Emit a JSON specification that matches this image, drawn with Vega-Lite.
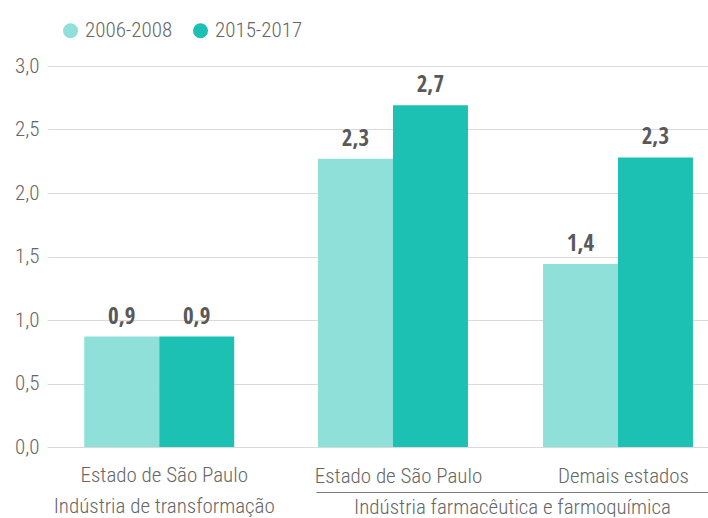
{
  "$schema": "https://vega.github.io/schema/vega-lite/v6.json",
  "padding": {"left": 7, "top": 20, "right": 0, "bottom": 0},
  "bounds": "flush",
  "config": {
    "locale": {"number": {"decimal": ",", "thousands": ".", "grouping": [3], "currency": ["R$ ", ""]}},
    "font": "Roboto Condensed, DejaVu Sans Condensed, sans-serif",
    "view": {"stroke": null}
  },
  "data": {
    "values": [
      {"sector": "Indústria de transformação", "group": "Estado de São Paulo", "period": "2006-2008", "value": 0.87},
      {"sector": "Indústria de transformação", "group": "Estado de São Paulo", "period": "2015-2017", "value": 0.87},
      {"sector": "Indústria farmacêutica e farmoquímica", "group": "Estado de São Paulo", "period": "2006-2008", "value": 2.27},
      {"sector": "Indústria farmacêutica e farmoquímica", "group": "Estado de São Paulo", "period": "2015-2017", "value": 2.69},
      {"sector": "Indústria farmacêutica e farmoquímica", "group": "Demais estados", "period": "2006-2008", "value": 1.44},
      {"sector": "Indústria farmacêutica e farmoquímica", "group": "Demais estados", "period": "2015-2017", "value": 2.28}
    ]
  },
  "spacing": 0,
  "resolve": {"scale": {"x": "independent", "y": "shared", "color": "shared"}, "axis": {"y": "independent", "x": "independent"}},
  "hconcat": [
    {
      "width": 269,
      "height": 381,
      "transform": [{"filter": "datum.sector == 'Indústria de transformação'"}],
      "encoding": {
        "x": {"field": "group", "type": "nominal", "sort": null,
          "scale": {"paddingInner": 0, "paddingOuter": 0.397, "align": 0.313},
          "axis": {"title": null, "domain": false, "ticks": false, "tickSize": 0, "labelPadding": -10, "offset": 44,
            "labelBaseline": "alphabetic", "labelAngle": 0, "labelOffset": 5,
            "labelExpr": "[datum.label, 'Indústria de transformação']", "labelLineHeight": 31,
            "labelFontWeight": 300,
            "labelFontSize": 21, "labelColor": "#666666", "labelLimit": 0, "labelOverlap": false, "labelFlush": false}},
        "xOffset": {"field": "period", "type": "nominal", "scale": {"paddingInner": 0, "paddingOuter": 0}},
        "y": {"field": "value", "type": "quantitative", "scale": {"domain": [0, 3]},
          "axis": {"values": [0, 0.5, 1, 1.5, 2, 2.5, 3], "format": ".1f", "title": null, "domain": false, "ticks": false,
            "labelPadding": 8, "minExtent": 40, "maxExtent": 40, "gridColor": "#d9d9d9", "gridWidth": 1.2,
            "labelFontWeight": 300,
            "labelFontSize": 21, "labelColor": "#666666"}},
        "color": {"field": "period", "type": "nominal",
          "scale": {"domain": ["2006-2008", "2015-2017"], "range": ["#8fe0d9", "#1dc1b3"]},
          "legend": {"orient": "none", "legendX": 13, "legendY": -46, "direction": "horizontal", "title": null,
            "symbolType": "circle", "symbolSize": 225, "symbolStrokeWidth": 0, "symbolOpacity": 1,
            "labelFontWeight": 300,
            "labelFontSize": 21, "labelColor": "#666666", "labelOffset": 4, "columnPadding": 17, "padding": 0}}
      },
      "layer": [
        {"mark": {"type": "bar"}},
        {"mark": {"type": "text", "dy": -13, "baseline": "alphabetic", "fontWeight": "bold", "fontSize": 23, "font": "Open Sans Condensed, Roboto Condensed, sans-serif"},
          "encoding": {"text": {"field": "value", "type": "quantitative", "format": ".1f"}, "color": {"value": "#595959"}}}
      ]
    },
    {
      "width": 392,
      "height": 381,
      "transform": [{"filter": "datum.sector == 'Indústria farmacêutica e farmoquímica'"}],
      "encoding": {
        "x": {"field": "group", "type": "nominal", "sort": ["Estado de São Paulo", "Demais estados"],
          "scale": {"paddingInner": 0.329, "paddingOuter": 0.0356, "align": 0.125},
          "axis": {"title": "Indústria farmacêutica e farmoquímica", "titleFontSize": 21, "titleFontWeight": 300,
            "titleColor": "#666666", "titlePadding": 4,
            "domain": true, "domainColor": "#7a7a7a", "domainWidth": 1, "ticks": false, "tickSize": 0, "labelPadding": -10, "offset": 45,
            "labelBaseline": "alphabetic", "labelAngle": 0, "labelOffset": 5,
            "labelFontWeight": 300,
            "labelFontSize": 21, "labelColor": "#666666", "labelLimit": 0, "labelOverlap": false, "labelFlush": false}},
        "xOffset": {"field": "period", "type": "nominal", "scale": {"paddingInner": 0, "paddingOuter": 0}},
        "y": {"field": "value", "type": "quantitative", "scale": {"domain": [0, 3]},
          "axis": {"values": [0, 0.5, 1, 1.5, 2, 2.5, 3], "title": null, "domain": false, "ticks": false, "labels": false,
            "minExtent": 0, "maxExtent": 0, "gridColor": "#d9d9d9", "gridWidth": 1.2}},
        "color": {"field": "period", "type": "nominal",
          "scale": {"domain": ["2006-2008", "2015-2017"], "range": ["#8fe0d9", "#1dc1b3"]}}
      },
      "layer": [
        {"mark": {"type": "bar"}},
        {"mark": {"type": "text", "dy": -13, "baseline": "alphabetic", "fontWeight": "bold", "fontSize": 23, "font": "Open Sans Condensed, Roboto Condensed, sans-serif"},
          "encoding": {"text": {"field": "value", "type": "quantitative", "format": ".1f"}, "color": {"value": "#595959"}}}
      ]
    }
  ]
}
